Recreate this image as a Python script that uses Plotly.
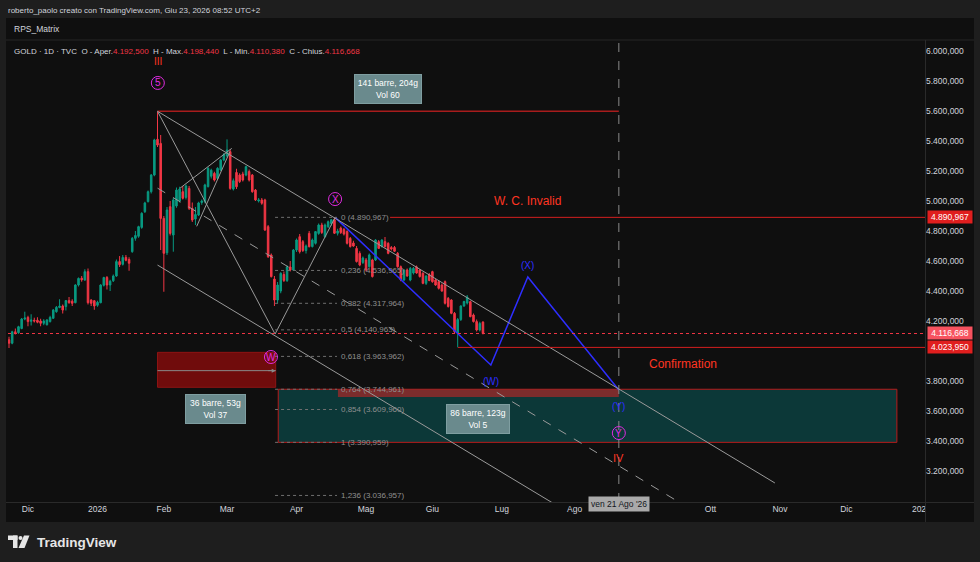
import numpy as np
import pandas as pd
import plotly.graph_objects as go

# ---------------- data ----------------
first_bar = "2025-11-21"
holidays = ["2025-12-25", "2026-01-01"]

opens = [
    4075, 4052, 4128, 4122, 4150, 4213, 4224, 4198, 4205, 4205,
    4200, 4185, 4175, 4196, 4218, 4262, 4290, 4300, 4296, 4336,
    4332, 4322, 4440, 4485, 4473, 4529, 4340, 4335, 4305, 4322,
    4438, 4490, 4440, 4468, 4500, 4596, 4578, 4624, 4610, 4662,
    4751, 4765, 4824, 4929, 4996, 5062, 5173, 5411, 5384, 4884,
    4655, 4962, 4773, 4967, 5000, 5062, 5024, 5084, 4951, 4880,
    4907, 4990, 4996, 5096, 5165, 5184, 5151, 5207, 5273, 5300,
    5329, 5080, 5190, 5173, 5180, 5173, 5196, 5173, 5073, 5000,
    5007, 5007, 4829, 4640, 4480, 4340, 4400, 4510, 4470, 4560,
    4540, 4673, 4762, 4729, 4670, 4784, 4696, 4718, 4784, 4840,
    4762, 4829, 4850, 4875, 4785, 4820, 4810, 4796, 4751, 4720,
    4684, 4651, 4590, 4607, 4562, 4607, 4607, 4729, 4696, 4729,
    4718, 4690, 4690, 4651, 4562, 4473, 4540, 4473, 4520, 4560,
    4540, 4518, 4451, 4510, 4529, 4473, 4462, 4440, 4462, 4351,
    4340, 4251, 4120, 4210, 4300, 4320, 4329, 4240, 4196, 4140,
    4192.500,
]
highs = [
    4095, 4135, 4150, 4168, 4220, 4262, 4235, 4245, 4222, 4225,
    4215, 4212, 4212, 4235, 4280, 4300, 4345, 4310, 4340, 4360,
    4345, 4445, 4490, 4500, 4545, 4550, 4345, 4340, 4335, 4445,
    4495, 4500, 4475, 4510, 4610, 4633, 4640, 4640, 4625, 4760,
    4800, 4835, 4925, 4995, 5070, 5180, 5415, 5598, 5440, 4900,
    4960, 5000, 5020, 5090, 5095, 5100, 5110, 5100, 4990, 4960,
    4995, 5010, 5115, 5225, 5215, 5195, 5225, 5280, 5320, 5411,
    5345, 5150, 5215, 5185, 5195, 5235, 5210, 5180, 5080, 5020,
    5020, 5015, 4840, 4650, 4500, 4460, 4525, 4530, 4570, 4600,
    4680, 4750, 4780, 4740, 4710, 4800, 4750, 4800, 4850, 4855,
    4850, 4870, 4880, 4891, 4815, 4830, 4820, 4805, 4760, 4735,
    4700, 4665, 4630, 4620, 4650, 4615, 4745, 4740, 4745, 4760,
    4725, 4700, 4700, 4660, 4570, 4545, 4550, 4560, 4560, 4570,
    4545, 4525, 4505, 4520, 4535, 4480, 4470, 4450, 4470, 4360,
    4345, 4260, 4220, 4305, 4335, 4373, 4335, 4250, 4210, 4195,
    4198.440,
]
lows = [
    4020, 4045, 4110, 4115, 4145, 4205, 4165, 4170, 4190, 4185,
    4165, 4172, 4170, 4190, 4215, 4255, 4285, 4250, 4270, 4315,
    4300, 4318, 4430, 4462, 4468, 4310, 4300, 4275, 4295, 4318,
    4430, 4410, 4400, 4460, 4495, 4560, 4570, 4598, 4535, 4655,
    4735, 4755, 4815, 4920, 4990, 5050, 5165, 5360, 4673, 4395,
    4640, 4770, 4662, 4955, 4990, 5010, 5010, 4940, 4860, 4840,
    4900, 4975, 4985, 5090, 5150, 5130, 5140, 5200, 5265, 5290,
    5075, 5070, 5080, 5120, 5130, 5165, 5130, 5055, 5000, 4990,
    4975, 4800, 4620, 4490, 4300, 4320, 4385, 4460, 4460, 4530,
    4535, 4660, 4650, 4660, 4650, 4690, 4690, 4710, 4775, 4780,
    4755, 4820, 4835, 4780, 4770, 4780, 4770, 4710, 4690, 4695,
    4590, 4565, 4580, 4530, 4555, 4490, 4600, 4680, 4690, 4690,
    4645, 4670, 4660, 4555, 4465, 4465, 4495, 4465, 4510, 4515,
    4490, 4445, 4440, 4465, 4455, 4435, 4410, 4395, 4310, 4290,
    4245, 4120, 4024, 4200, 4295, 4310, 4225, 4190, 4130, 4130,
    4110.380,
]
closes = [
    4052, 4128, 4122, 4162, 4213, 4220, 4196, 4207, 4200, 4192,
    4185, 4200, 4207, 4224, 4273, 4291, 4300, 4273, 4336, 4322,
    4318, 4440, 4484, 4475, 4529, 4322, 4318, 4300, 4325, 4440,
    4490, 4440, 4465, 4500, 4596, 4575, 4624, 4605, 4585, 4751,
    4770, 4829, 4918, 4987, 5062, 5173, 5407, 5373, 4884, 4651,
    4940, 4784, 5007, 5073, 5080, 5018, 5100, 4951, 4873, 4910,
    4987, 5000, 5107, 5218, 5205, 5140, 5218, 5273, 5310, 5340,
    5084, 5135, 5095, 5130, 5140, 5229, 5140, 5062, 5007, 5007,
    4985, 4807, 4629, 4496, 4340, 4440, 4518, 4470, 4560, 4540,
    4673, 4740, 4662, 4670, 4700, 4696, 4740, 4796, 4840, 4790,
    4840, 4862, 4875, 4785, 4800, 4790, 4780, 4718, 4696, 4700,
    4596, 4573, 4620, 4540, 4640, 4496, 4740, 4684, 4740, 4696,
    4651, 4680, 4665, 4562, 4473, 4540, 4500, 4551, 4551, 4520,
    4496, 4451, 4500, 4470, 4462, 4440, 4418, 4400, 4318, 4296,
    4251, 4129, 4210, 4300, 4330, 4360, 4229, 4196, 4140, 4184,
    4116.668,
]

month_tick_dates = ["2025-12-01", "2026-01-02", "2026-02-02", "2026-03-02", "2026-04-01",
                    "2026-05-01", "2026-06-01", "2026-07-01", "2026-08-03", "2026-10-01",
                    "2026-11-02", "2026-12-01", "2027-01-01"]
month_tick_text = ["Dic", "2026", "Feb", "Mar", "Apr", "Mag", "Giu", "Lug", "Ago",
                   "Ott", "Nov", "Dic", "202"]
# 4.000,000 is hidden under the 4.023,950 price tag in the reference
price_ticks = [3200, 3400, 3600, 3800, 4200, 4400, 4600, 4800,
               5000, 5200, 5400, 5600, 5800, 6000]

fib_levels = [0, 0.236, 0.382, 0.5, 0.618, 0.764, 0.854, 1, 1.236]
fib_prices = [4890.967, 4536.965, 4317.964, 4140.963, 3963.962,
              3744.961, 3609.960, 3390.959, 3036.957]

last_ohlc = [4192.500, 4198.440, 4110.380, 4116.668]
invalid_level = 4890.967
confirm_level = 4023.950
peak_price = 5598
target_date_label = "ven 21 Ago '26"

# wave path (bar index from 2026-01-02, price)
blue_path_idx = [75.2, 124.5, 136.2, 165]
blue_path_px = [4890.967, 3907, 4493, 3740]

# ---------------- calendar helpers ----------------
cal = pd.bdate_range("2025-10-01", "2027-03-31")
cal = cal[~cal.isin(pd.to_datetime(holidays))]
dates = cal[cal >= pd.Timestamp(first_bar)][:len(opens)]
i0 = cal.get_loc(pd.Timestamp("2026-01-02"))


def xb(i):
    k = int(np.floor(i))
    f = i - k
    t = cal[i0 + k] + pd.Timedelta(hours=24 * f)
    return t.strftime("%Y-%m-%d %H:%M:%S")


def itfmt(p, nd=3):
    s = f"{p:,.{nd}f}"
    return s.replace(",", "X").replace(".", ",").replace("X", ".")


# pixel -> paper helpers for page chrome only
L_PX, R_PX, T_PX, B_PX = 8, 925, 40, 502


def pxx(px):
    return (px - L_PX) / (R_PX - L_PX)


def pxy(py):
    return (B_PX - py) / (B_PX - T_PX)


RED = "#f23645"
GREEN = "#089981"
TXTRED = "#ff3522"
BLUE = "#2e2eff"
MAG = "#e22be2"
GRAY = "#9a9a9a"

fig = go.Figure()

fig.add_trace(go.Candlestick(
    x=dates, open=opens, high=highs, low=lows, close=closes,
    increasing=dict(line=dict(color=GREEN, width=1), fillcolor=GREEN),
    decreasing=dict(line=dict(color=RED, width=1), fillcolor=RED),
    whiskerwidth=0, hoverinfo="skip",
))

fig.add_trace(go.Scatter(
    x=[xb(i) for i in blue_path_idx], y=blue_path_px, mode="lines",
    line=dict(color=BLUE, width=1.5), hoverinfo="skip",
))

shapes = []
annots = []

# page chrome
shapes.append(dict(type="rect", xref="paper", yref="paper", x0=pxx(6), x1=pxx(974),
                   y0=pxy(522), y1=pxy(18), fillcolor="#0f0f0f", line=dict(width=0), layer="below"))
shapes.append(dict(type="line", xref="paper", yref="paper", x0=pxx(6), x1=pxx(974),
                   y0=pxy(40), y1=pxy(40), line=dict(color="#262626", width=1)))
shapes.append(dict(type="line", xref="paper", yref="paper", x0=pxx(6), x1=pxx(974),
                   y0=pxy(502.5), y1=pxy(502.5), line=dict(color="#2a2a2a", width=1)))
shapes.append(dict(type="line", xref="paper", yref="paper", x0=pxx(925.5), x1=pxx(925.5),
                   y0=pxy(40), y1=pxy(522), line=dict(color="#2a2a2a", width=1)))

# 36 barre date range box (peak -> W)
shapes.append(dict(type="rect", xref="x", yref="y", x0=xb(19), x1=xb(56.4), y0=3758, y1=3991,
                   fillcolor="#700c0c", line=dict(color="#8e1414", width=1), layer="below"))
shapes.append(dict(type="line", xref="x", yref="y", x0=xb(19), x1=xb(56.4), y0=3869, y1=3869,
                   line=dict(color="#8a8a8a", width=1)))
annots.append(dict(x=xb(56.4), y=3869, ax=-9, ay=0, text="", showarrow=True, arrowhead=2,
                   arrowsize=0.8, arrowwidth=1, arrowcolor="#8a8a8a"))

# target zone box
shapes.append(dict(type="rect", xref="x", yref="y", x0=xb(57.2), x1=xb(253), y0=fib_prices[7], y1=fib_prices[5],
                   fillcolor="#0c3838", line=dict(color="#b71c1c", width=1), layer="below"))
# 86 barre date range band (X -> target date)
shapes.append(dict(type="rect", xref="x", yref="y", x0=xb(76.1), x1=xb(165), y0=3694, y1=fib_prices[5],
                   fillcolor="rgba(160,40,40,0.75)", line=dict(width=0), layer="below"))

# 141 barre date range line (peak -> target date)
shapes.append(dict(type="line", xref="x", yref="y", x0=xb(19), x1=xb(165), y0=peak_price, y1=peak_price,
                   line=dict(color="#a81c1c", width=1.5)))

# target date vertical
shapes.append(dict(type="line", xref="x", yref="paper", x0=xb(165), x1=xb(165), y0=0, y1=1,
                   line=dict(color="#8a8a8a", width=1, dash="dash")))

# channel lines (upper through peak, dashed median, lower)
chan_end = 214.4
slope = (3120 - peak_price) / (chan_end - 19)
for p0, dash in [(peak_price, "solid"), (5085.5, "dash"), (4573, "solid")]:
    shapes.append(dict(type="line", xref="x", yref="y", x0=xb(19), x1=xb(chan_end),
                       y0=p0, y1=p0 + slope * (chan_end - 19),
                       line=dict(color=GRAY, width=1, dash=dash)))

# peak -> W -> X lines
shapes.append(dict(type="line", xref="x", yref="y", x0=xb(19), y0=peak_price, x1=xb(56.2), y1=4113,
                   line=dict(color=GRAY, width=1)))
shapes.append(dict(type="line", xref="x", yref="y", x0=xb(56.2), y0=4113, x1=xb(75.2), y1=invalid_level,
                   line=dict(color=GRAY, width=1)))
# small triangle lines (Feb)
shapes.append(dict(type="line", xref="x", yref="y", x0=xb(26.1), y0=5085, x1=xb(42.5), y1=5351,
                   line=dict(color=GRAY, width=1)))
shapes.append(dict(type="line", xref="x", yref="y", x0=xb(31.4), y0=4831, x1=xb(41.9), y1=5328,
                   line=dict(color=GRAY, width=1)))

# fib levels
for lvl, pr in zip(fib_levels, fib_prices):
    shapes.append(dict(type="line", xref="x", yref="y", x0=xb(56.2), x1=xb(75.8), y0=pr, y1=pr,
                       line=dict(color="#6f6f6f", width=1, dash="dot")))
    annots.append(dict(x=xb(76.4), y=pr, xanchor="left", yanchor="middle", showarrow=False,
                       text=f"{lvl:g}".replace(".", ",") + " (" + itfmt(pr) + ")",
                       font=dict(color="#8f8f8f", size=8)))

# horizontal red rays
shapes.append(dict(type="line", xref="x", yref="y", x0=xb(92.6), x1=xb(262), y0=invalid_level, y1=invalid_level,
                   line=dict(color="#d41f1f", width=1)))
shapes.append(dict(type="line", xref="x", yref="y", x0=xb(114.1), x1=xb(262), y0=confirm_level, y1=confirm_level,
                   line=dict(color="#d41f1f", width=1)))
shapes.append(dict(type="line", xref="paper", yref="y", x0=0, x1=1, y0=last_ohlc[3], y1=last_ohlc[3],
                   line=dict(color=RED, width=1, dash="dot")))


# circled wave labels
def circ(i, p, letter):
    shapes.append(dict(type="circle", xref="x", yref="y", xsizemode="pixel", ysizemode="pixel",
                       xanchor=xb(i), yanchor=p, x0=-6.5, x1=6.5, y0=-6.5, y1=6.5,
                       line=dict(color=MAG, width=1)))
    annots.append(dict(x=xb(i), y=p, text=letter, showarrow=False, yshift=0,
                       font=dict(color=MAG, size=10)))


circ(19.1, 5787, "5")
circ(75.2, 5013, "X")
circ(54.9, 3960, "W")
circ(165, 3453, "Y")


def txt(i, p, s, color, size):
    annots.append(dict(x=xb(i), y=p, text=s, showarrow=False, font=dict(color=color, size=size)))


txt(19.1, 5932, "III", TXTRED, 10)
txt(165, 3287, "IV", TXTRED, 11)
txt(136.2, 4573, "(X)", BLUE, 10)
txt(124.5, 3800, "(W)", BLUE, 10)
txt(165, 3633, "(Y)", BLUE, 10)
txt(136.2, 5000, "W. C. Invalid", TXTRED, 12)
txt(185.3, 3913, "Confirmation", TXTRED, 12)


def infobox(i, p, s, w):
    annots.append(dict(x=xb(i), y=p, text=s, showarrow=False, align="center",
                       bgcolor="#6a8a8d", bordercolor="#7f9ea1", borderwidth=1, borderpad=2,
                       width=w, height=24, font=dict(color="#ffffff", size=8.5)))


infobox(91.9, 5747, "141 barre, 204g<br>Vol 60", 62)
infobox(37.5, 3613, "36 barre, 53g<br>Vol 37", 55)
infobox(120.4, 3547, "86 barre, 123g<br>Vol 5", 58)


# right axis price tags
def ptag(p, bg):
    annots.append(dict(xref="paper", x=pxx(927), y=p, xanchor="left", yanchor="middle",
                       text=itfmt(p), showarrow=False, bgcolor=bg, borderpad=1, width=42,
                       font=dict(color="#ffffff", size=8.5)))


ptag(invalid_level, "#e01e1e")
ptag(last_ohlc[3], "#f7525f")
ptag(confirm_level, "#e01e1e")

# time axis crosshair label
annots.append(dict(x=xb(165), yref="paper", y=pxy(512), text=target_date_label, showarrow=False,
                   bgcolor="#a9a9a9", borderpad=2, font=dict(color="#131722", size=8.5)))

# headers
annots.append(dict(xref="paper", yref="paper", x=pxx(6), y=pxy(10), xanchor="left", yanchor="middle",
                   showarrow=False, text="roberto_paolo creato con TradingView.com, Giu 23, 2026 08:52 UTC+2",
                   font=dict(color="#d1d4dc", size=8)))
annots.append(dict(xref="paper", yref="paper", x=pxx(12), y=pxy(29), xanchor="left", yanchor="middle",
                   showarrow=False, text="RPS_Matrix", font=dict(color="#d1d4dc", size=8.5)))
vr = f"<span style='color:{RED}'>"
ohlc_txt = ("GOLD · 1D · TVC  O - Aper." + vr + itfmt(last_ohlc[0]) + "</span>  H - Max." + vr
            + itfmt(last_ohlc[1]) + "</span>  L - Min." + vr + itfmt(last_ohlc[2]) + "</span>  C - Chius."
            + vr + itfmt(last_ohlc[3]) + "</span>")
annots.append(dict(xref="paper", yref="paper", x=pxx(12), y=pxy(51), xanchor="left", yanchor="middle",
                   showarrow=False, text=ohlc_txt, font=dict(color="#d1d4dc", size=8)))

# TradingView logo
shapes.append(dict(type="rect", xref="paper", yref="paper", x0=pxx(8), x1=pxx(17.5), y0=pxy(540), y1=pxy(535.5),
                   fillcolor="#e6e6e6", line=dict(width=0)))
shapes.append(dict(type="rect", xref="paper", yref="paper", x0=pxx(13), x1=pxx(17.5), y0=pxy(548), y1=pxy(535.5),
                   fillcolor="#e6e6e6", line=dict(width=0)))
shapes.append(dict(type="circle", xref="paper", yref="paper", x0=pxx(18.5), x1=pxx(22.5), y0=pxy(540), y1=pxy(536),
                   fillcolor="#e6e6e6", line=dict(width=0)))
shapes.append(dict(type="path", xref="paper", yref="paper",
                   path=f"M {pxx(24)} {pxy(535.5)} L {pxx(29.5)} {pxy(535.5)} L {pxx(24.5)} {pxy(548)} L {pxx(18.5)} {pxy(548)} Z",
                   fillcolor="#e6e6e6", line=dict(width=0)))
annots.append(dict(xref="paper", yref="paper", x=pxx(35), y=pxy(542), xanchor="left", yanchor="middle",
                   showarrow=False, text="<b>TradingView</b>", font=dict(color="#e6e6e6", size=13.5)))

fig.update_layout(
    width=980, height=562,
    margin=dict(l=L_PX, r=980 - R_PX, t=T_PX, b=562 - B_PX),
    paper_bgcolor="#1e1e1e", plot_bgcolor="#0f0f0f",
    showlegend=False,
    font=dict(family="Liberation Sans, Arial, sans-serif", color="#d1d4dc"),
    shapes=shapes, annotations=annots,
    xaxis=dict(type="date", range=[xb(-28.32), xb(261.9)],
               rangebreaks=[dict(bounds=["sat", "mon"]), dict(values=holidays)],
               tickvals=month_tick_dates, ticktext=month_tick_text, ticks="",
               tickfont=dict(size=8.5, color="#d1d4dc"), showgrid=False, zeroline=False,
               rangeslider=dict(visible=False), showline=False, fixedrange=True),
    yaxis=dict(side="right", range=[2993.3, 6073.3], tickvals=price_ticks,
               ticktext=[itfmt(p) for p in price_ticks], ticks="",
               tickfont=dict(size=8.5, color="#d1d4dc"), showgrid=False, zeroline=False,
               showline=False, fixedrange=True),
)

# remove the browser's default 8px page margin so the figure sits at (0, 0); hide the mode bar
fig.write_html("out.html", config={"displayModeBar": False},
               post_script="document.body.style.margin='0';")
